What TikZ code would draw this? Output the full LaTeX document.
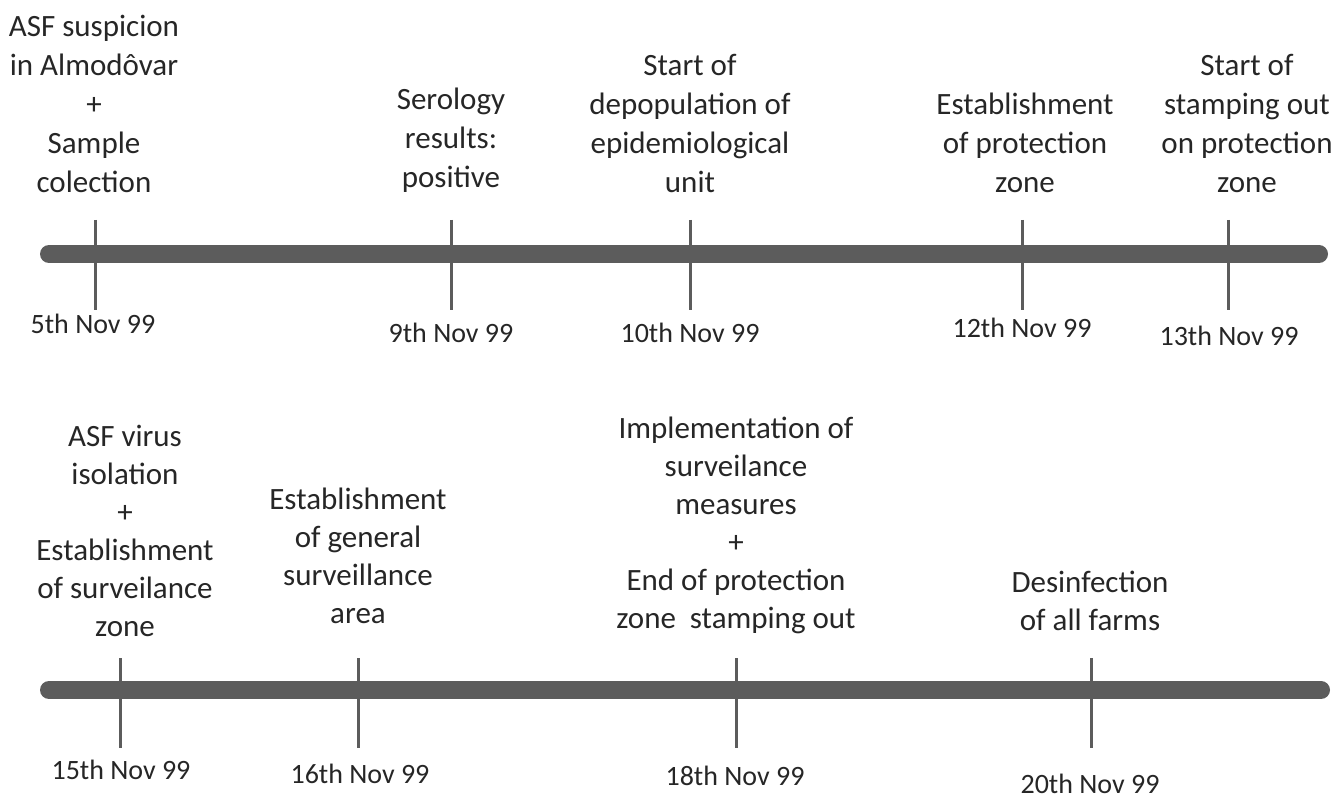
\documentclass[tikz,border=0pt]{standalone}
\usepackage{fontspec}
\setmainfont{Carlito}
\usepackage{tikz}
\usetikzlibrary{positioning}

\definecolor{bargray}{RGB}{92,92,92}
\definecolor{txtgray}{RGB}{38,38,38}

\begin{document}
\begin{tikzpicture}[
      x=1pt, y=-1pt,
      font=\fontsize{31}{39}\selectfont,
      text=txtgray,
      bar/.style={line width=18pt, line cap=round, draw=bargray},
      tick/.style={line width=3pt, draw=bargray},
      event/.style={align=center, anchor=south, inner sep=0pt},
      lowevent/.style={event, font=\fontsize{31}{38}\selectfont},
      date/.style={anchor=base, inner sep=0pt, font=\fontsize{28}{32}\selectfont}
    ]
    \useasboundingbox (0,0) rectangle (1342,799);

    % Top timeline
    \coordinate (topL) at (49,254);
    \coordinate (topR) at (1319,254);
    \draw[bar] (topL) -- (topR);

    \node[event] (ev5) at (94,193) {ASF suspicion\\in Almod\^ovar\\+\\Sample\\colection};
    \node[event] (ev9) at (451,193) {Serology\\results:\\positive};
    \node[event] (ev10) at (690,193) {Start of\\depopulation of\\epidemiological\\unit};
    \node[event] (ev12) at (1025,193) {Establishment\\of protection\\zone};
    \node[event] (ev13) at (1247,193) {Start of\\stamping out\\on protection\\zone};

    \node[date] (d5) at (93,334) {5th Nov 99};
    \node[date] (d9) at (451,343) {9th Nov 99};
    \node[date] (d10) at (690,343) {10th Nov 99};
    \node[date] (d12) at (1022,338) {12th Nov 99};
    \node[date] (d13) at (1229,346) {13th Nov 99};

    \draw[tick] (95,220) -- (95,310);
    \draw[tick] (451,220) -- (451,310);
    \draw[tick] (690,220) -- (690,310);
    \draw[tick] (1022,220) -- (1022,310);
    \draw[tick] (1228,220) -- (1228,310);

    % Bottom timeline
    \coordinate (botL) at (49,690);
    \coordinate (botR) at (1321,690);
    \draw[bar] (botL) -- (botR);

    \node[lowevent] (ev15) at (125,637) {ASF virus\\isolation\\+\\Establishment\\of surveilance\\zone};
    \node[lowevent] (ev16) at (358,624) {Establishment\\of general\\surveillance\\area};
    \node[lowevent] (ev18) at (736,634) {Implementation of\\surveilance\\measures\\+\\End of protection\\zone\ \ stamping out};
    \node[lowevent] (ev20) at (1090,631) {Desinfection\\of all farms};

    \node[date] (d15) at (121,779) {15th Nov 99};
    \node[date] (d16) at (360,783) {16th Nov 99};
    \node[date] (d18) at (735,785) {18th Nov 99};
    \node[date] (d20) at (1090,793) {20th Nov 99};

    \draw[tick] (120,658) -- (120,748);
    \draw[tick] (358,658) -- (358,748);
    \draw[tick] (736,658) -- (736,748);
    \draw[tick] (1091,658) -- (1091,748);
  \end{tikzpicture}
\end{document}
